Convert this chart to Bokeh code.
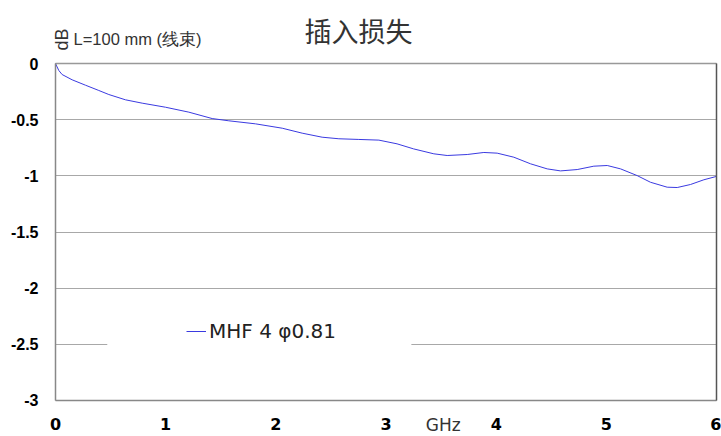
import math
from bokeh.plotting import figure
from bokeh.models import (Range1d, FixedTicker, Label, Legend, LegendItem, BoxAnnotation,
                          LinearAxis)
from bokeh.embed import file_html
from bokeh.resources import INLINE

# data
freq_ghz = [0, 0.03, 0.06, 0.151, 0.272, 0.393, 0.484, 0.635, 0.787, 0.998, 1.21, 1.422,
            1.573, 1.815, 2.058, 2.239, 2.42, 2.572, 2.753, 2.935, 3.10, 3.25, 3.434,
            3.555, 3.737, 3.888, 4.009, 4.16, 4.312, 4.463, 4.584, 4.735, 4.886, 5.008,
            5.129, 5.28, 5.40, 5.552, 5.643, 5.764, 5.885, 6.0]
loss_db = [0, -0.062, -0.098, -0.145, -0.193, -0.240, -0.276, -0.323, -0.353, -0.389,
           -0.433, -0.49, -0.51, -0.537, -0.576, -0.62, -0.656, -0.67, -0.676, -0.682,
           -0.715, -0.76, -0.804, -0.819, -0.81, -0.792, -0.798, -0.834, -0.893, -0.938,
           -0.956, -0.944, -0.914, -0.908, -0.938, -0.998, -1.057, -1.101, -1.104, -1.077,
           -1.035, -1.005]
series_name = "MHF 4 \u03c60.81"
x_ticks = [0, 1, 2, 3, 4, 5, 6]
y_ticks = [0, -0.5, -1, -1.5, -2, -2.5, -3]
y_tick_labels = ["0", "-0.5", "-1", "-1.5", "-2", "-2.5", "-3"]
title_text = "插入损失"
unit_text = "L=100 mm (线束)"
x_unit = "GHz"

# the frame covers the whole canvas so that texts around the plot box are drawn
p = figure(width=721, height=436, output_backend="svg", toolbar_location=None,
           x_range=Range1d(-0.4992, 6.045), y_range=Range1d(-3.3205, 0.561),
           min_border_left=0, min_border_right=0, min_border_top=0, min_border_bottom=0)
p.title.visible = False
p.outline_line_color = None
p.background_fill_color = "white"
p.border_fill_color = "white"

p.xgrid.visible = False
p.ygrid.grid_line_color = "#a8a8a8"
p.ygrid.ticker = FixedTicker(ticks=y_ticks)
p.ygrid.cross_bounds = (0, 6)

p.xaxis.ticker = FixedTicker(ticks=x_ticks)
p.yaxis.ticker = FixedTicker(ticks=y_ticks)
p.yaxis.major_label_overrides = {t: s for t, s in zip(y_ticks, y_tick_labels)}
p.xaxis.fixed_location = -3
p.yaxis.fixed_location = 0
p.xaxis.bounds = (0, 6)
p.yaxis.bounds = (-3, 0)
for ax in (p.xaxis, p.yaxis):
    ax.axis_line_color = "#888888"
    ax.axis_line_width = 1.5
    ax.major_tick_line_color = None
    ax.minor_tick_line_color = None
    ax.major_tick_out = 0
    ax.major_tick_in = 0
    ax.major_label_text_color = "black"
    ax.major_label_text_font_style = "bold"
p.xaxis.major_label_text_font = "DejaVu Sans"
p.xaxis.major_label_text_font_size = "16px"
p.xaxis.major_label_standoff = 18
p.yaxis.major_label_text_font = "Liberation Sans"
p.yaxis.major_label_text_font_size = "16px"
p.yaxis.major_label_standoff = 17

# top and right borders of the plot box
top_axis = LinearAxis(fixed_location=0, bounds=(0, 6), ticker=FixedTicker(ticks=[]),
                      axis_line_color="#999999", axis_line_width=1.5,
                      major_tick_line_color=None, minor_tick_line_color=None)
right_axis = LinearAxis(fixed_location=6, bounds=(-3, 0), ticker=FixedTicker(ticks=[]),
                        axis_line_color="#555555", axis_line_width=1.5,
                        major_tick_line_color=None, minor_tick_line_color=None)
p.add_layout(top_axis, "above")
p.add_layout(right_axis, "right")

# legend background (white box hiding the grid line)
p.add_layout(BoxAnnotation(left=0.47, right=3.23, top=-2.25, bottom=-2.75,
                           fill_color="white", fill_alpha=1, line_color=None))

r = p.line(freq_ghz, loss_db, line_color="#3a3ae0", line_width=1)

legend = Legend(items=[LegendItem(label=series_name, renderers=[r])],
                location=(186, 93), padding=0, margin=0, spacing=0,
                background_fill_alpha=0, border_line_color=None,
                label_text_font="DejaVu Sans", label_text_font_size="20px",
                label_text_color="#222222", label_standoff=3, glyph_width=20)
p.add_layout(legend, "center")

p.add_layout(Label(x=2.75, y=0, y_offset=33, text=title_text, text_align="center",
                   text_baseline="middle", text_font="Noto Sans CJK SC",
                   text_font_size="27px", text_color="#333333"))
p.add_layout(Label(x=0, y=0, x_offset=7, y_offset=24, text="dB", angle=math.pi / 2,
                   text_align="center", text_baseline="middle", text_font="Liberation Sans",
                   text_font_size="18px", text_color="#333333"))
p.add_layout(Label(x=0, y=0, x_offset=18, y_offset=25, text=unit_text, text_align="left",
                   text_baseline="middle", text_font="Liberation Sans",
                   text_font_size="16.5px", text_color="#333333"))
p.add_layout(Label(x=3.52, y=-3, y_offset=-25, text=x_unit, text_align="center",
                   text_baseline="middle", text_font="DejaVu Sans",
                   text_font_size="17px", text_color="#333333"))

open("out.html", "w").write(file_html(p, INLINE))
